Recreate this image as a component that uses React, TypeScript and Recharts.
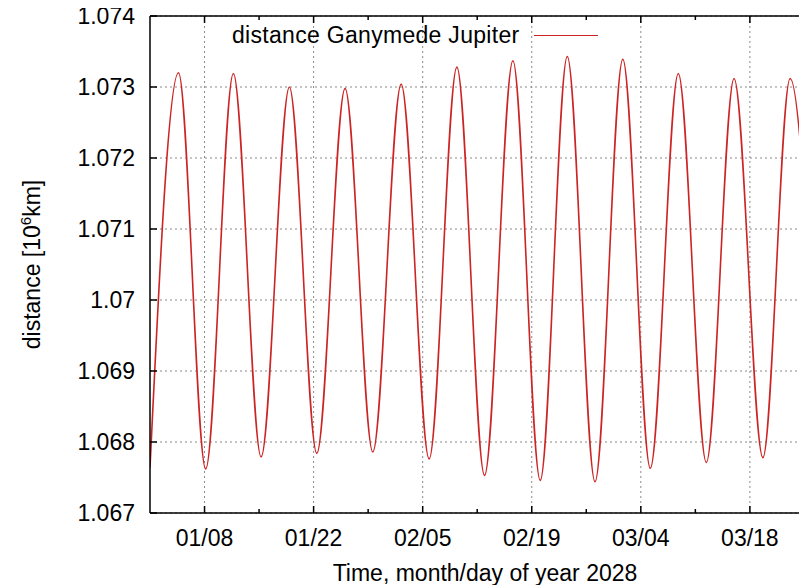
import { CartesianGrid, Line, LineChart, ReferenceLine, XAxis, YAxis } from "recharts"

// time in days since 2028-01-01 00:00; the curve's turning points
const days = [
  0, 3.66, 7.15, 10.7, 14.26, 17.89, 21.41, 25.04, 28.6, 32.24, 35.83, 39.39, 42.94,
  46.58, 50.09, 53.56, 57.12, 60.69, 64.22, 67.81, 71.41, 74.97, 78.67, 82.16, 85.8,
]
// distance Ganymede - Jupiter, 10^6 km
const distance = [
  1.06764, 1.0732, 1.06762, 1.07319, 1.06779, 1.073, 1.06784, 1.07298, 1.06786, 1.07304,
  1.06776, 1.07328, 1.06753, 1.07337, 1.06746, 1.07343, 1.06744, 1.07339, 1.06763, 1.07319,
  1.06771, 1.07312, 1.06778, 1.07312, 1.0678,
]

const xTicks = [7, 14, 21, 28, 35, 42, 49, 56, 63, 70, 77, 84]
const xMajor = [7, 21, 35, 49, 63, 77]
const yTicks = [1.067, 1.068, 1.069, 1.07, 1.071, 1.072, 1.073, 1.074]

const data = days.map((d, i) => ({ day: d, dist: distance[i] }))

const FONT = "'Liberation Sans', Arial, Helvetica, sans-serif"
const RED = "#cc2424"
const PLOT_TOP = 16

const fmtDate = (d: number) => {
  const t = new Date(Date.UTC(2028, 0, 1 + d))
  const mm = String(t.getUTCMonth() + 1).padStart(2, "0")
  const dd = String(t.getUTCDate()).padStart(2, "0")
  return `${mm}/${dd}`
}

const fmtY = (v: number) => String(Number(v.toFixed(3)))

const XTick = (props: any) => {
  const { x, y, payload } = props
  const major = xMajor.includes(payload.value)
  const len = major ? 7 : 4
  return (
    <g>
      <line x1={x} x2={x} y1={y} y2={y - len} stroke="#000" strokeWidth={1.5} />
      <line x1={x} x2={x} y1={PLOT_TOP} y2={PLOT_TOP + len} stroke="#000" strokeWidth={1.5} />
      {major && (
        <text x={x} y={y + 33} textAnchor="middle" fontSize={23} fontFamily={FONT} fill="#000">
          {fmtDate(payload.value)}
        </text>
      )}
    </g>
  )
}

const YTick = (props: any) => {
  const { x, y, payload } = props
  return (
    <g>
      <line x1={x} x2={x + 7} y1={y} y2={y} stroke="#000" strokeWidth={1.5} />
      <text x={x - 15} y={y + 8} textAnchor="end" fontSize={23} fontFamily={FONT} fill="#000">
        {fmtY(payload.value)}
      </text>
    </g>
  )
}

const XLabel = (props: any) => {
  const vb = props.viewBox
  return (
    <text x={vb.x + vb.width / 2} y={vb.y + 68} textAnchor="middle" fontSize={23} fontFamily={FONT} fill="#000">
      Time, month/day of year 2028
    </text>
  )
}

const YLabel = (props: any) => {
  const vb = props.viewBox
  const cx = 32
  const cy = vb.y + vb.height / 2
  return (
    <text
      x={cx}
      y={cy}
      dy={8}
      textAnchor="middle"
      transform={`rotate(-90 ${cx} ${cy})`}
      fontSize={23}
      fontFamily={FONT}
      fill="#000"
    >
      distance [10
      <tspan dy={-9} fontSize={15}>6</tspan>
      <tspan dy={9}>km]</tspan>
    </text>
  )
}

export default function App() {
  return (
    <div
      style={{
        position: "relative",
        margin: "-8px 0 0 -8px",
        width: 807,
        height: 585,
        overflow: "hidden",
        background: "#fff",
      }}
    >
      <LineChart width={830} height={585} data={data} margin={{ top: PLOT_TOP, right: 10, left: 0, bottom: 0 }}>
        <CartesianGrid horizontal vertical={false} stroke="#8a8a8a" strokeDasharray="2 3" />
        {xMajor.map((t) => (
          <ReferenceLine key={t} x={t} stroke="#8a8a8a" strokeDasharray="2 3" />
        ))}
        <XAxis
          dataKey="day"
          type="number"
          domain={[0, 86]}
          allowDataOverflow
          ticks={xTicks}
          interval={0}
          tickSize={0}
          tickMargin={0}
          tickLine={false}
          height={72}
          axisLine={{ stroke: "#000", strokeWidth: 1.5 }}
          tick={<XTick />}
          label={{ content: XLabel }}
        />
        <YAxis
          type="number"
          domain={[1.067, 1.074]}
          allowDataOverflow
          ticks={yTicks}
          interval={0}
          tickSize={0}
          tickMargin={0}
          tickLine={false}
          width={150}
          axisLine={{ stroke: "#000", strokeWidth: 1.5 }}
          tick={<YTick />}
          label={{ content: YLabel }}
        />
        <ReferenceLine y={1.074} stroke="#000" strokeWidth={1.5} />
        <Line
          type="monotone"
          dataKey="dist"
          stroke={RED}
          strokeWidth={1.6}
          dot={false}
          activeDot={false}
          isAnimationActive={false}
        />
      </LineChart>
      <div
        style={{
          position: "absolute",
          left: 232,
          top: 22,
          fontSize: 23,
          lineHeight: "26px",
          letterSpacing: "0.3px",
          fontFamily: FONT,
          display: "flex",
          alignItems: "center",
          whiteSpace: "nowrap",
        }}
      >
        <span>distance Ganymede Jupiter</span>
        <span style={{ display: "inline-block", width: 64, borderTop: `1.6px solid ${RED}`, marginLeft: 14 }} />
      </div>
    </div>
  )
}
